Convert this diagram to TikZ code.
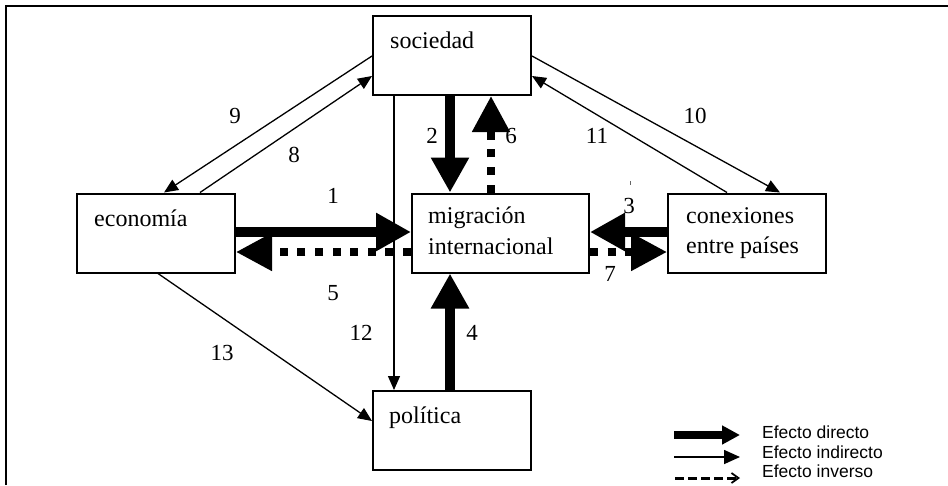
\documentclass[tikz,border=0pt]{standalone}
\usepackage{fontspec}
\setmainfont{Liberation Serif}
\newfontfamily\legendfont{Liberation Sans}
\usetikzlibrary{arrows.meta,calc}

\tikzset{
  box/.style={draw, line width=2pt, inner sep=0pt, minimum width=158pt, minimum height=79pt},
  lbl/.style={inner sep=0pt, font=\fontsize{24}{28}\selectfont},
  num/.style={inner sep=0pt, font=\fontsize{23}{26}\selectfont},
  legtxt/.style={inner sep=0pt, anchor=base west, font=\legendfont\fontsize{17.5}{20}\selectfont},
  direct/.style={line width=10pt, -{Triangle[length=35pt,width=36pt]}},
  inverse/.style={line width=8pt, dash pattern=on 8pt off 9.6pt, -{Triangle[length=36pt,width=36pt]}},
  indirect/.style={line width=1.3pt, -{Triangle[length=14pt,width=12pt]}},
}

\begin{document}
\begin{tikzpicture}[x=1pt, y=-1pt]
\useasboundingbox (0,0) rectangle (948,485);

% frame
\draw[line width=2pt] (6,485) -- (6,6) -- (948,6);

% boxes
\node[box] (soc) at (452,55.5) {};
\node[box] (eco) at (156,233) {};
\node[box, minimum width=177pt] (mig) at (500.5,233) {};
\node[box] (con) at (747,233) {};
\node[box] (pol) at (452,430.5) {};

% box texts
\node[lbl, anchor=base west] (soct) at (390,48) {sociedad};
\node[lbl, anchor=base west] (ecot) at (94,226) {economía};
\node[lbl, anchor=base west] (migt1) at (428,223) {migración};
\node[lbl, anchor=base west] (migt2) at (428,254) {internacional};
\node[lbl, anchor=base west] (cont1) at (686,223) {conexiones};
\node[lbl, anchor=base west] (cont2) at (686,253) {entre países};
\node[lbl, anchor=base west] (polt) at (389,423) {política};

% direct effects
\draw[direct] ($(eco.east)+(0,-1)$) -- ($(mig.west)+(0,-1)$);
\draw[direct] ($(soc.south)+(-2,0)$) -- ($(mig.north)+(-50.5,0)$);
\draw[direct] ($(con.west)+(0,-1)$) -- ($(mig.east)+(0,-1)$);
\draw[direct] ($(pol.north)+(-2,0)$) -- ($(mig.south)+(-50.5,0)$);

% inverse effects
\draw[inverse] ($(mig.west)+(0,19)$) -- ($(eco.east)+(0,19)$);
\draw[inverse] ($(mig.north)+(-9.5,0)$) -- ($(soc.south)+(39,0)$);
\draw[inverse] ($(mig.east)+(0,19)$) -- ($(con.west)+(0,19)$);

% indirect effects
\draw[indirect] ($(soc.west)+(0,0.5)$) -- ($(eco.north)+(8,0)$);
\draw[indirect] ($(eco.north)+(44,0)$) -- ($(soc.west)+(0,20.5)$);
\draw[indirect] ($(soc.east)+(0,0.5)$) -- ($(con.north)+(33,0)$);
\draw[indirect] ($(con.north)+(-20,0)$) -- ($(soc.east)+(0,20.5)$);
\draw[indirect] ($(soc.south)+(-58,0)$) -- ($(pol.north)+(-58,0)$);
\draw[indirect] ($(eco.south)+(2,0)$) -- ($(pol.west)+(0,-9.5)$);

% small mark above label 3
\draw[line width=1pt, black!60] (630,181) -- (630,185);

% numbers
\node[num] (n1) at (333,196) {1};
\node[num] (n2) at (432,136) {2};
\node[num] (n3) at (629,206) {3};
\node[num] (n4) at (472,333) {4};
\node[num] (n5) at (333,293) {5};
\node[num] (n6) at (511,136) {6};
\node[num] (n7) at (610,274) {7};
\node[num] (n8) at (294,155) {8};
\node[num] (n9) at (235,116) {9};
\node[num] (n10) at (695,116) {10};
\node[num] (n11) at (597,136) {11};
\node[num] (n12) at (361,333) {12};
\node[num] (n13) at (222,353) {13};

% legend
\coordinate (la1) at (674,435);
\coordinate (lb1) at (740,435);
\coordinate (la2) at (674,457);
\coordinate (lb2) at (740,457);
\coordinate (la3) at (675,478);
\coordinate (lb3) at (740,478);
\draw[line width=8pt, -{Triangle[length=18pt,width=18pt]}] (la1) -- (lb1);
\draw[line width=1.6pt, -{Triangle[length=16pt,width=14pt]}] (la2) -- (lb2);
\draw[line width=3pt, dash pattern=on 9pt off 4pt, -{Straight Barb[length=7pt,width=10pt,line width=1.8pt]}] (la3) -- (lb3);
\node[legtxt] (lt1) at (762,438) {Efecto directo};
\node[legtxt] (lt2) at (762,458) {Efecto indirecto};
\node[legtxt] (lt3) at (762,477) {Efecto inverso};
\end{tikzpicture}
\end{document}
